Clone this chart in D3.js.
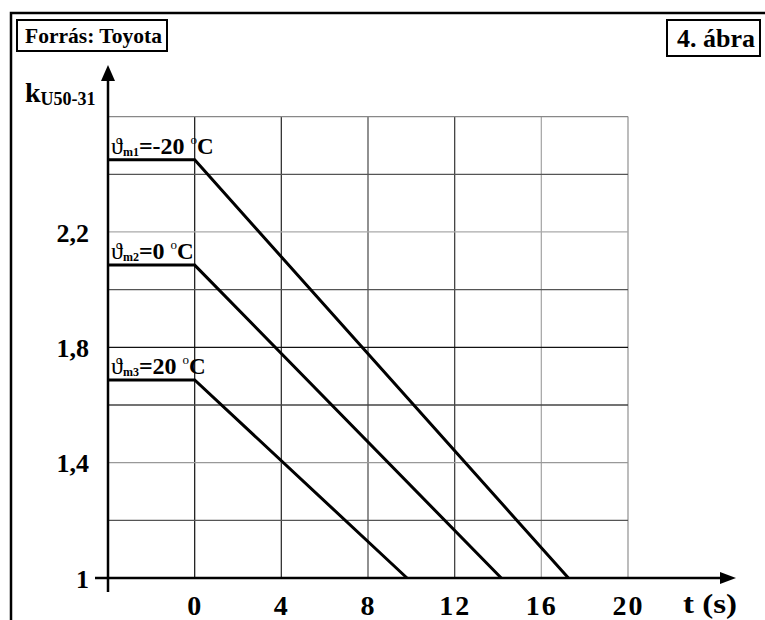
<!DOCTYPE html>
<html><head><meta charset="utf-8">
<script src="https://cdn.jsdelivr.net/npm/d3@7"></script>
<style>
html,body{margin:0;padding:0;background:#fff;}
svg{display:block;}
text{font-family:"Liberation Serif","Times New Roman",serif;font-weight:bold;fill:#000;}
</style></head>
<body>
<svg id="chart" width="765" height="620"></svg>
<script>
// ---- data ----
const xTickValues = [0, 4, 8, 12, 16, 20];
const yTickValues = [1, 1.4, 1.8, 2.2];
const yGridValues = [1.2, 1.4, 1.6, 1.8, 2.0, 2.2, 2.4, 2.6];
const xGridValues = [0, 4, 8, 12, 16, 20];
const seriesNames = ["m1", "m2", "m3"];
const seriesTemps = ["-20", "0", "20"];
const seriesM1 = [[-4, 2.45], [0, 2.45], [17.25, 1.0]];
const seriesM2 = [[-4, 2.085], [0, 2.085], [14.15, 1.0]];
const seriesM3 = [[-4, 1.687], [0, 1.687], [9.8, 1.0]];
const sourceLabel = "Forrás: Toyota";
const figureLabel = "4. ábra";

// ---- layout ----
const svg = d3.select("#chart");
const x = d3.scaleLinear().domain([-4, 20]).range([108, 628]);
const y = d3.scaleLinear().domain([1, 2.6]).range([578, 116.6]);

// outer frame
svg.append("path").attr("d", "M11,620 L11,13 L765,13")
  .attr("fill", "none").attr("stroke", "#000").attr("stroke-width", 2.5);

// label boxes
function boxLabel(txt, bx, by, bw, bh, fs, tx, ty, tl) {
  svg.append("rect").attr("x", bx).attr("y", by).attr("width", bw).attr("height", bh)
    .attr("fill", "#fff").attr("stroke", "#000").attr("stroke-width", 2);
  const t = svg.append("text").attr("x", tx).attr("y", ty).attr("font-size", fs).text(txt);
  if (tl) t.attr("textLength", tl).attr("lengthAdjust", "spacingAndGlyphs");
}
boxLabel(sourceLabel, 17, 20, 150, 31, 21, 25, 43, 137);
boxLabel(figureLabel, 667, 20, 93, 36, 26, 677, 47, 78);

// grid
const vGridColor = {0: "#222", 4: "#333", 8: "#555", 12: "#444", 16: "#aaa", 20: "#999"};
const hGridColor = {"1.2": "#555", "1.4": "#999", "1.6": "#444", "1.8": "#111", "2": "#555", "2.2": "#aaa", "2.4": "#555", "2.6": "#888"};
svg.append("g").selectAll("line").data(xGridValues).join("line")
  .attr("x1", d => x(d)).attr("x2", d => x(d))
  .attr("y1", y(2.6)).attr("y2", y(1))
  .attr("stroke", d => vGridColor[d]).attr("stroke-width", 1.3);
svg.append("g").selectAll("line").data(yGridValues).join("line")
  .attr("x1", x(-4)).attr("x2", x(20))
  .attr("y1", d => y(d)).attr("y2", d => y(d))
  .attr("stroke", d => hGridColor[String(+d.toFixed(1))]).attr("stroke-width", 1.3);

// series lines
const line = d3.line().x(d => x(d[0])).y(d => y(d[1]));
const allSeries = [seriesM1, seriesM2, seriesM3];
svg.append("g").selectAll("path").data(allSeries).join("path")
  .attr("d", line).attr("fill", "none").attr("stroke", "#000")
  .attr("stroke-width", 3).attr("stroke-linejoin", "miter");

// series labels
allSeries.forEach((s, i) => {
  const t = svg.append("text").attr("x", x(-4) + 3).attr("y", y(s[0][1]) - 6);
  t.append("tspan").attr("font-size", 24)
    .style("font-family", "'Liberation Serif','DejaVu Serif',serif").style("font-weight", "normal").text("ϑ");
  t.append("tspan").attr("font-size", 12).attr("dy", 2).text(seriesNames[i]);
  t.append("tspan").attr("font-size", 24).attr("dy", -2).text("=" + seriesTemps[i] + " ");
  t.append("tspan").attr("font-size", 13).attr("dy", -10).style("font-weight", "normal").text("o");
  t.append("tspan").attr("font-size", 23).attr("dy", 10).text("C");
});

// axes with tick labels (no domain, labels only)
const yAxis = d3.axisLeft(y).tickValues(yTickValues).tickSize(0).tickPadding(19)
  .tickFormat(d => d3.format(".1~f")(d).replace(".", ","));
const gy = svg.append("g").attr("transform", `translate(${x(-4)},0)`).call(yAxis);
gy.select(".domain").remove();
gy.selectAll("text").attr("font-size", 26).attr("font-family", null)
  .style("font-family", "'Liberation Serif',serif").style("font-weight", "bold").attr("dy", "0.35em");

const xAxis = d3.axisBottom(x).tickValues(xTickValues).tickSize(0).tickPadding(17);
const gx = svg.append("g").attr("transform", `translate(0,${y(1)})`).call(xAxis);
gx.select(".domain").remove();
gx.selectAll("text").attr("font-size", 28).attr("font-family", null)
  .style("font-family", "'Liberation Serif',serif").style("font-weight", "bold")
  .style("letter-spacing", "2px");

// axis lines with arrows
svg.append("line").attr("x1", x(-4)).attr("x2", x(-4)).attr("y1", 78).attr("y2", 592)
  .attr("stroke", "#000").attr("stroke-width", 2.5);
svg.append("path").attr("d", `M${x(-4)},65 L${x(-4) - 7},81 L${x(-4) + 7},81 Z`).attr("fill", "#000");
svg.append("line").attr("x1", 95).attr("x2", 722).attr("y1", y(1)).attr("y2", y(1))
  .attr("stroke", "#000").attr("stroke-width", 2.5);
svg.append("path").attr("d", `M736,${y(1)} L720,${y(1) - 6} L720,${y(1) + 6} Z`).attr("fill", "#000");

// axis titles
const ky = svg.append("text").attr("x", 25).attr("y", 102);
ky.append("tspan").attr("font-size", 28).text("k");
ky.append("tspan").attr("font-size", 18).attr("dy", 3).text("U50-31");
svg.append("text").attr("x", 683).attr("y", 613).attr("font-size", 28)
  .attr("textLength", 54).attr("lengthAdjust", "spacingAndGlyphs").text("t (s)");
</script>
</body></html>
